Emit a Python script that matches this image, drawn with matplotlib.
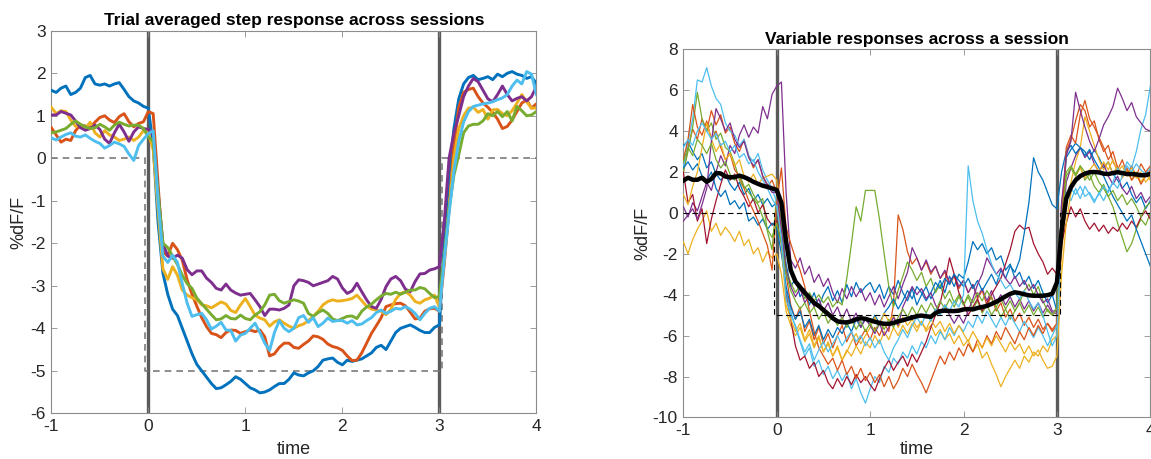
import numpy as np
import matplotlib
matplotlib.use("Agg")
import matplotlib.pyplot as plt

plt.rcParams['font.family'] = ['Liberation Sans', 'DejaVu Sans']
plt.rcParams['axes.unicode_minus'] = False

# sample times shared by every trace (-1 s to 4 s, 50 ms steps)
t = np.linspace(-1, 4, 101)

# stimulus step drawn as a dashed reference
step_t = [-1, -0.03, -0.03, 3.03, 3.03, 4]
step_v = [0, 0, -5, -5, 0, 0]

# ---- left panel: trial-averaged response for each session ----
sess_blue = [1.60, 1.55, 1.65, 1.70, 1.50, 1.55, 1.65, 1.90, 1.95, 1.75,
             1.72, 1.75, 1.70, 1.75, 1.78, 1.62, 1.45, 1.35, 1.30, 1.22,
             1.18, 0.30, -1.50, -2.70, -3.20, -3.55, -3.70, -4.00, -4.30, -4.60,
             -4.85, -5.00, -5.15, -5.30, -5.42, -5.40, -5.33, -5.25, -5.14, -5.20,
             -5.30, -5.40, -5.45, -5.52, -5.50, -5.45, -5.37, -5.30, -5.30, -5.20,
             -5.05, -5.10, -5.12, -5.05, -5.00, -4.90, -4.75, -4.72, -4.70, -4.80,
             -4.86, -4.75, -4.78, -4.75, -4.72, -4.65, -4.58, -4.45, -4.40, -4.50,
             -4.30, -4.10, -4.00, -3.96, -3.92, -3.98, -4.05, -4.10, -4.10, -3.98,
             -3.92, -2.00, -0.40, 0.70, 1.40, 1.75, 1.90, 1.95, 1.85, 1.88,
             1.92, 1.85, 1.98, 1.92, 2.00, 2.04, 1.98, 1.95, 1.88, 1.92, 1.76]
sess_orange = [0.72, 0.55, 0.38, 0.45, 0.42, 0.65, 0.78, 0.76, 0.72, 0.85,
               0.96, 1.00, 0.90, 0.84, 0.98, 1.05, 0.86, 0.74, 0.82, 0.86,
               1.10, 1.05, -0.60, -2.20, -2.30, -2.00, -2.15, -2.40, -2.86, -3.20,
               -3.48, -3.75, -3.96, -4.12, -4.15, -4.22, -4.10, -4.04, -4.05, -4.12,
               -4.08, -4.04, -4.08, -4.04, -4.20, -4.65, -4.60, -4.45, -4.35, -4.35,
               -4.45, -4.47, -4.38, -4.30, -4.18, -4.20, -4.26, -4.37, -4.43, -4.46,
               -4.52, -4.65, -4.76, -4.75, -4.58, -4.35, -4.12, -3.94, -3.75, -3.49,
               -3.45, -3.42, -3.41, -3.47, -3.62, -3.78, -3.76, -3.60, -3.54, -3.53,
               -3.60, -2.50, -1.20, 0.30, 1.20, 1.55, 1.62, 1.65, 1.45, 1.30,
               1.20, 1.08, 0.92, 0.70, 0.75, 0.90, 1.10, 1.30, 1.37, 1.18, 1.28]
sess_yellow = [1.20, 1.05, 1.12, 1.10, 0.90, 0.75, 0.80, 0.70, 0.85, 0.60,
               0.50, 0.65, 0.55, 0.50, 0.42, 0.45, 0.50, 0.42, 0.50, 0.65,
               0.60, 0.20, -1.20, -2.60, -2.85, -2.55, -2.75, -3.10, -3.22, -3.28,
               -3.33, -3.45, -3.47, -3.52, -3.45, -3.38, -3.43, -3.58, -3.63, -3.45,
               -3.30, -3.49, -3.69, -3.76, -3.80, -3.95, -3.85, -3.80, -3.88, -3.95,
               -4.00, -3.94, -3.90, -3.82, -3.72, -3.60, -3.45, -3.37, -3.33, -3.36,
               -3.35, -3.33, -3.30, -3.22, -3.35, -3.48, -3.55, -3.57, -3.60, -3.68,
               -3.55, -3.32, -3.18, -3.14, -3.22, -3.37, -3.41, -3.33, -3.29, -3.22,
               -3.50, -2.40, -1.20, 0.00, 0.70, 1.00, 1.18, 1.20, 1.08, 1.15,
               0.92, 1.14, 1.15, 1.05, 1.00, 1.12, 1.30, 1.50, 1.33, 1.18, 1.18]
sess_purple = [1.02, 1.02, 1.10, 1.06, 1.02, 0.88, 0.72, 0.66, 0.70, 0.78,
               0.68, 0.45, 0.35, 0.60, 0.80, 0.62, 0.40, 0.62, 0.74, 0.70,
               0.68, 0.55, -0.80, -2.00, -2.30, -2.35, -2.28, -2.35, -2.62, -2.74,
               -2.65, -2.65, -2.82, -2.92, -3.06, -3.10, -2.96, -3.10, -3.17, -3.22,
               -3.20, -3.18, -3.33, -3.49, -3.70, -3.55, -3.55, -3.57, -3.53, -3.45,
               -3.00, -2.86, -2.88, -2.92, -3.00, -2.96, -2.92, -2.88, -2.78, -2.84,
               -3.05, -3.18, -3.12, -2.94, -3.14, -3.33, -3.49, -3.53, -3.32, -3.02,
               -2.84, -2.78, -2.88, -3.08, -3.14, -2.90, -2.72, -2.71, -2.63, -2.60,
               -2.55, -1.50, 0.00, 0.60, 1.00, 1.45, 1.70, 1.88, 1.80, 1.60,
               1.40, 1.33, 1.50, 1.70, 1.50, 1.35, 1.41, 1.45, 1.35, 1.45, 1.69]
sess_green = [0.60, 0.62, 0.66, 0.70, 0.80, 0.88, 0.80, 0.74, 0.70, 0.72,
              0.80, 0.74, 0.66, 0.78, 0.85, 0.80, 0.76, 0.78, 0.78, 0.70,
              0.50, 0.40, -0.80, -2.00, -2.10, -2.30, -2.50, -2.75, -2.95, -3.06,
              -3.29, -3.42, -3.55, -3.68, -3.80, -3.78, -3.70, -3.77, -3.78, -3.69,
              -3.77, -3.80, -3.69, -3.61, -3.45, -3.22, -3.20, -3.35, -3.41, -3.37,
              -3.33, -3.36, -3.41, -3.65, -3.72, -3.63, -3.57, -3.65, -3.78, -3.82,
              -3.77, -3.72, -3.71, -3.77, -3.60, -3.50, -3.43, -3.33, -3.24, -3.18,
              -3.20, -3.15, -3.20, -3.15, -3.10, -3.10, -3.04, -3.07, -3.18, -3.28,
              -3.25, -2.30, -1.20, -0.40, 0.08, 0.60, 0.76, 0.80, 0.80, 0.88,
              1.05, 1.00, 1.10, 0.98, 1.10, 0.88, 1.22, 1.12, 1.00, 1.02, 1.10]
sess_lightblue = [0.48, 0.43, 0.50, 0.56, 0.60, 0.52, 0.50, 0.55, 0.47, 0.40,
                  0.35, 0.24, 0.30, 0.38, 0.34, 0.28, 0.10, -0.05, 0.30, 0.45,
                  0.58, 0.65, -1.00, -2.30, -2.45, -2.28, -2.45, -2.95, -3.41, -3.72,
                  -3.68, -3.65, -3.80, -4.02, -3.95, -3.86, -4.04, -4.05, -4.30, -4.16,
                  -4.12, -4.00, -3.88, -4.10, -4.35, -4.52, -4.10, -3.82, -4.00, -4.08,
                  -4.00, -3.75, -3.70, -3.86, -3.75, -3.96, -3.88, -3.76, -3.84, -3.82,
                  -3.82, -3.88, -3.82, -3.92, -3.90, -3.82, -3.75, -3.63, -3.57, -3.65,
                  -3.60, -3.53, -3.55, -3.49, -3.55, -3.65, -3.80, -3.65, -3.53, -3.49,
                  -3.60, -2.40, -1.30, -0.30, 0.40, 0.85, 1.10, 1.22, 1.25, 1.28,
                  1.30, 1.33, 1.38, 1.42, 1.50, 1.70, 1.84, 1.75, 2.04, 1.98, 1.50]

# ---- right panel: single trials within one session, plus their mean ----
trial_01 = [3.3, 3.5, 3.0, 2.6, 2.9, 2.2, 2.5, 1.9, 1.6, 1.9,
            1.4, 1.1, 1.5, 0.9, 1.2, 0.6, 0.9, 0.4, 0.7, 0.3,
            0.5, -0.5, -2.5, -3.6, -3.2, -4.1, -3.7, -4.5, -3.9, -4.6,
            -4.0, -3.6, -4.3, -3.8, -4.4, -3.5, -4.1, -3.4, -3.9, -3.6,
            -3.4, -3.9, -3.5, -4.2, -3.6, -4.0, -3.3, -3.9, -4.3, -3.7,
            -4.5, -4.0, -3.6, -4.2, -3.8, -3.3, -3.9, -3.1, -3.6, -3.0,
            -3.2, -2.4, -1.4, -1.8, -1.5, -2.0, -1.7, -2.3, -2.1, -2.8,
            -2.5, -3.2, -2.9, -3.5, -3.1, -3.7, -3.3, -3.9, -4.4, -4.0,
            -4.8, -0.5, 2.7, 3.1, 3.4, 3.2, 3.0, 2.6, 3.1, 2.7,
            2.2, 2.5, 1.9, 1.6, 1.2, 1.5, 0.9, 0.5, 0.8, 0.2, 0.6]
trial_02 = [2.0, 3.2, 4.1, 3.6, 4.6, 4.0, 5.0, 4.3, 4.8, 3.9,
            4.2, 3.4, 3.0, 3.6, 2.8, 2.2, 2.6, 1.8, 1.3, 1.6,
            1.0, -0.5, -3.0, -4.5, -5.2, -4.6, -5.8, -5.3, -6.2, -5.6,
            -6.4, -5.9, -6.6, -6.0, -5.5, -6.3, -5.8, -6.5, -6.1, -5.7,
            -6.2, -5.6, -6.0, -5.4, -5.8, -4.5, -0.1, -0.8, -1.9, -2.5,
            -2.2, -2.8, -2.4, -3.0, -2.6, -3.2, -2.9, -3.5, -3.1, -3.7,
            -3.3, -3.9, -3.5, -4.2, -3.8, -4.5, -4.1, -4.8, -4.4, -5.1,
            -4.7, -5.3, -4.9, -5.5, -5.1, -5.6, -5.2, -5.7, -5.4, -5.8,
            -5.5, -1.0, 3.0, 3.6, 4.5, 5.3, 5.0, 4.2, 4.5, 3.6,
            3.0, 3.3, 2.5, 2.1, 2.6, 1.9, 2.3, 1.8, 2.4, 2.0, 2.3]
trial_03 = [-1.4, -2.0, -1.3, -0.8, -0.4, 0.1, -0.9, -0.5, -1.1, -0.7,
            -1.0, -1.4, -0.9, -1.6, -1.3, -2.0, -1.7, -2.4, -1.9, -2.2,
            -2.0, -3.0, -4.8, -5.5, -6.0, -5.6, -6.3, -5.9, -6.6, -6.1,
            -6.8, -6.4, -7.0, -6.5, -7.2, -6.7, -7.0, -6.5, -6.9, -6.3,
            -6.6, -6.0, -6.4, -5.8, -6.2, -5.6, -6.0, -5.5, -5.9, -5.4,
            -5.8, -5.3, -5.8, -5.5, -6.0, -5.7, -6.2, -5.9, -6.4, -6.0,
            -6.5, -6.2, -6.8, -6.4, -7.1, -6.8, -7.4, -7.9, -8.5, -8.0,
            -7.6, -7.2, -7.6, -7.0, -7.3, -6.8, -7.0, -6.5, -6.8, -6.2,
            -6.0, -2.0, 0.5, 1.5, 2.5, 3.2, 4.7, 4.0, 3.3, 2.6,
            2.1, 2.5, 1.9, 2.3, 1.7, 2.1, 1.6, 2.0, 1.5, 1.9, 1.6]
trial_04 = [0.3, -0.2, 0.5, 0.1, 0.8, 1.5, 1.1, 2.0, 2.8, 2.3,
            3.3, 2.9, 3.8, 4.3, 3.7, 4.2, 3.9, 5.2, 4.6, 5.8,
            6.2, 6.4, 1.0, -2.3, -2.7, -2.2, -3.0, -2.6, -3.4, -3.0,
            -3.6, -3.2, -3.9, -4.4, -3.7, -4.2, -3.6, -4.1, -3.7, -4.3,
            -3.9, -4.5, -4.0, -4.6, -4.1, -3.6, -4.2, -3.5, -2.9, -1.7,
            -2.2, -2.8, -2.3, -2.9, -2.6, -3.2, -2.8, -3.4, -3.0, -3.6,
            -3.3, -3.9, -3.5, -4.1, -3.7, -4.3, -3.8, -4.4, -4.0, -4.5,
            -4.1, -4.6, -4.2, -4.7, -4.3, -4.8, -4.4, -4.9, -4.5, -4.9,
            -4.9, -1.5, 1.5, 2.2, 2.8, 3.2, 2.7, 3.0, 2.4, 2.0,
            2.4, 1.8, 1.4, 1.8, 1.2, 0.9, 1.3, 0.7, 1.0, 0.5, 0.8]
trial_05 = [2.0, 3.0, 4.2, 5.9, 4.6, 4.0, 4.4, 3.6, 3.9, 3.2,
            3.0, 2.4, 1.6, 1.2, 1.4, 0.9, 0.5, 0.7, -0.9, -1.8,
            0.9, -0.5, -2.8, -3.4, -3.9, -3.5, -4.2, -3.9, -4.3, -4.0,
            -4.4, -4.1, -4.6, -4.3, -4.5, -3.2, -1.5, 0.3, -0.4, 1.1,
            1.1, 1.1, -0.3, -2.0, -3.6, -4.6, -3.8, -3.1, -2.4, -2.8,
            -3.3, -2.9, -3.6, -3.2, -3.9, -3.5, -4.2, -3.8, -4.4, -4.0,
            -4.5, -4.1, -4.7, -4.3, -4.9, -4.5, -5.0, -4.6, -5.1, -4.7,
            -5.2, -4.8, -4.4, -3.8, -3.5, -4.0, -3.6, -4.3, -4.8, -5.0,
            -4.6, 0.5, 2.0, 2.3, 1.9, 2.3, 1.6, 1.9, 1.3, 1.0,
            1.4, 0.8, 0.3, -0.5, -1.2, -1.9, -1.5, -0.8, -0.3, -0.6, 0.0]
trial_06 = [2.2, 3.5, 4.6, 6.5, 6.4, 7.1, 6.2, 5.6, 5.3, 4.4,
            4.0, 3.8, 3.3, 3.6, 2.8, 2.5, 2.9, 2.1, 1.6, 1.2,
            0.5, -1.0, -3.8, -4.8, -5.6, -6.3, -7.0, -6.6, -7.5, -7.2,
            -7.9, -7.5, -8.1, -7.7, -8.2, -7.8, -8.6, -8.1, -8.8, -9.3,
            -8.6, -8.0, -8.3, -7.5, -7.8, -7.1, -7.4, -6.8, -7.1, -6.5,
            -6.9, -6.3, -6.6, -6.0, -6.4, -5.8, -6.2, -5.6, -6.0, -5.5,
            -5.8, -5.3, -5.6, -5.0, -5.4, -4.8, -5.2, -5.6, -5.1, -5.5,
            -5.0, -5.4, -5.8, -5.3, -5.7, -6.1, -5.6, -6.0, -6.5, -6.0,
            -5.5, -1.0, 1.0, 0.6, 1.2, 0.7, 1.3, 0.9, 0.5, 1.0,
            0.6, 1.1, 1.5, 1.2, 1.8, 2.5, 2.2, 3.0, 4.1, 4.8, 6.2]
trial_07 = [2.0, 0.5, 0.9, -0.4, 0.2, -1.5, -0.3, 0.6, 1.4, 2.1,
            1.6, 1.9, 1.2, 0.8, 0.3, 0.7, 0.0, 0.4, -0.3, -0.6,
            -0.4, -1.5, -4.0, -5.2, -6.5, -7.2, -7.0, -7.6, -7.3, -8.0,
            -7.7, -8.3, -8.6, -8.1, -8.5, -8.0, -8.4, -7.9, -8.3, -8.0,
            -8.4, -8.7, -8.1, -7.6, -7.2, -7.7, -7.3, -7.0, -7.5, -6.9,
            -7.3, -6.8, -6.3, -5.6, -5.0, -4.4, -3.4, -2.2, -3.0, -3.9,
            -4.4, -5.0, -4.6, -4.2, -4.8, -4.4, -4.0, -3.6, -3.2, -2.5,
            -1.8, -0.9, -0.6, -0.8, -0.7, -1.5, -2.0, -2.4, -3.0, -2.7,
            -3.0, -1.5, -0.5, 0.3, -0.2, 0.2, -0.4, -0.8, -0.5, -0.9,
            -0.6, -1.0, -0.7, -0.9, -0.5, -0.8, -0.4, -0.7, -0.2, 0.1, -0.3]
trial_08 = [2.2, 2.5, 2.1, 2.4, 1.8, 1.6, 2.0, 1.2, 0.8, 1.1,
            0.4, 0.6, 0.2, 0.5, -0.4, -0.2, -0.6, -0.3, -0.8, -0.5,
            -0.7, -2.0, -3.6, -4.6, -5.2, -4.8, -5.6, -5.2, -6.0, -5.5,
            -6.2, -5.7, -6.1, -5.6, -5.9, -5.4, -5.8, -5.2, -5.6, -5.1,
            -5.5, -5.0, -5.4, -4.9, -4.6, -4.2, -4.7, -4.3, -3.8, -4.2,
            -3.6, -3.9, -4.3, -3.9, -3.4, -3.7, -3.2, -3.5, -3.0, -3.3,
            -3.6, -3.2, -3.7, -3.3, -3.8, -3.4, -3.0, -3.5, -2.8, -3.2,
            -2.6, -2.9, -2.3, -1.0, 0.5, 2.7, 2.0, 1.6, 1.0, 0.4,
            0.2, 2.0, 3.0, 3.3, 2.9, 3.2, 2.8, 3.1, 2.6, 2.2,
            1.8, 1.3, 0.8, 0.4, 0.0, -0.4, -0.1, -0.8, -1.4, -2.0, -2.6]
trial_09 = [2.6, 3.6, 5.3, 4.2, 3.8, 4.5, 3.6, 4.0, 3.2, 2.6,
            2.9, 2.1, 1.8, 1.2, 0.6, 0.1, -0.4, -1.0, -1.6, -2.8,
            0.5, 2.2, -0.7, -1.5, -2.2, -2.8, -3.6, -4.8, -5.8, -6.6,
            -7.0, -7.4, -7.1, -7.7, -7.2, -7.9, -7.5, -8.1, -7.6, -8.2,
            -7.8, -8.3, -7.9, -8.5, -8.0, -8.6, -8.2, -7.6, -8.0, -7.4,
            -7.9, -8.3, -8.8, -8.2, -7.6, -7.0, -7.4, -6.8, -7.2, -6.6,
            -7.0, -6.4, -6.8, -6.2, -6.6, -6.0, -6.4, -5.8, -6.2, -5.6,
            -6.0, -6.4, -5.8, -6.2, -5.6, -6.0, -5.5, -5.9, -5.4, -5.7,
            -5.4, -0.5, 3.2, 3.8, 3.4, 4.8, 5.5, 4.6, 4.2, 3.7,
            3.2, 2.6, 3.0, 2.2, 1.8, 2.2, 1.6, 1.9, 1.4, 1.8, 2.1]
trial_10 = [0.9, 0.4, 1.3, 2.0, 3.2, 4.4, 3.6, 3.0, 3.4, 2.6,
            2.9, 2.3, 2.6, 1.8, 1.5, 1.9, 1.4, 1.7, 1.8, 1.9,
            1.6, -1.5, -4.5, -5.2, -5.8, -5.4, -6.2, -5.7, -6.5, -6.0,
            -6.8, -6.3, -7.0, -6.6, -7.2, -6.8, -6.3, -5.9, -6.4, -6.0,
            -5.6, -5.1, -5.5, -4.9, -5.3, -5.0, -5.6, -5.1, -5.5, -5.2,
            -5.6, -5.3, -5.7, -5.2, -5.6, -5.3, -5.8, -5.4, -5.9, -5.5,
            -5.9, -6.3, -5.8, -6.2, -6.6, -6.1, -6.5, -6.0, -6.4, -6.8,
            -6.3, -6.7, -6.4, -6.9, -6.5, -7.0, -6.7, -7.2, -7.6, -7.5,
            -7.0, -3.0, -0.5, 1.0, 1.8, 2.2, 1.7, 2.1, 2.4, 2.0,
            2.5, 2.1, 2.6, 2.0, 2.3, 1.8, 2.2, 1.7, 2.0, 1.5, 1.8]
trial_11 = [-0.4, -0.1, 0.2, -0.3, 0.4, 1.2, 3.5, 5.1, 4.6, 4.0,
            4.4, 3.6, 3.2, 3.5, 2.7, 2.3, 2.6, 1.8, 1.4, 1.0,
            1.0, -0.8, -2.8, -3.6, -4.1, -3.7, -4.4, -4.0, -4.6, -4.2,
            -4.8, -4.4, -5.0, -4.6, -5.2, -4.7, -5.3, -4.9, -5.6, -5.2,
            -5.5, -5.9, -5.4, -6.0, -5.6, -5.1, -5.5, -4.6, -4.1, -3.6,
            -4.0, -3.7, -4.2, -3.9, -4.5, -4.9, -4.5, -5.0, -5.4, -5.0,
            -5.4, -4.8, -4.2, -3.5, -3.0, -2.2, -2.6, -3.0, -2.7, -3.2,
            -3.5, -3.1, -3.6, -3.3, -3.8, -3.5, -4.0, -4.4, -4.2, -4.8,
            -4.8, 0.5, 2.8, 3.5, 5.9, 5.0, 4.2, 3.5, 3.0, 3.6,
            4.3, 4.7, 5.2, 6.1, 5.6, 5.0, 5.4, 4.7, 4.4, 4.1, 4.0]
trial_12 = [2.5, 3.2, 2.8, 3.6, 3.3, 2.9, 3.4, 2.6, 2.2, 2.5,
            1.9, 1.6, 1.9, 1.3, 1.0, 0.7, 0.4, -0.2, -0.8, -1.2,
            -0.5, -1.5, -3.0, -3.8, -4.3, -4.7, -4.4, -4.9, -4.6, -5.2,
            -4.8, -5.4, -5.0, -5.5, -5.1, -5.6, -5.2, -5.7, -5.3, -5.8,
            -5.4, -5.8, -5.3, -5.7, -5.2, -5.6, -5.1, -4.7, -5.1, -4.6,
            -5.0, -4.5, -4.9, -4.4, -4.8, -4.3, -4.7, -4.2, -4.6, -4.1,
            -4.5, -4.0, -4.4, -3.9, -4.3, -3.8, -4.2, -4.6, -4.2, -4.7,
            -4.3, -4.8, -4.4, -4.9, -4.5, -5.0, -4.6, -5.1, -4.7, -5.0,
            -4.7, -0.5, 1.8, 2.2, 1.8, 2.3, 2.0, 1.6, 2.0, 1.5,
            1.2, 0.8, 1.1, 0.6, 0.9, 0.4, 0.7, 0.3, -0.2, 0.3, 0.5]
trial_13 = [3.2, 3.6, 3.3, 4.0, 4.4, 4.0, 3.6, 3.9, 3.3, 3.5,
            3.0, 3.3, 2.7, 2.9, 2.4, 2.6, 2.0, 1.6, 1.2, 0.7,
            0.3, -1.2, -4.2, -5.0, -5.5, -6.2, -6.8, -6.4, -7.2, -6.7,
            -6.3, -6.8, -6.4, -6.0, -6.5, -6.1, -5.8, -6.3, -6.0, -6.5,
            -6.1, -6.6, -6.2, -6.8, -7.2, -6.6, -6.2, -5.7, -6.1, -5.5,
            -5.1, -5.5, -4.9, -5.3, -4.7, -5.0, -4.5, -4.8, -4.3, -4.6,
            -4.0, 2.3, 0.6, -0.4, -1.0, -1.8, -2.5, -3.0, -3.3, -3.7,
            -3.5, -3.9, -4.2, -3.8, -4.3, -4.7, -4.4, -5.0, -5.8, -6.5,
            -6.0, -0.8, 0.8, 1.2, 0.9, 1.3, 0.8, 1.0, 0.6, 0.9,
            1.3, 1.0, 1.5, 2.2, 1.8, 2.3, 2.0, 2.4, 2.1, 1.9, 2.2]
trial_mean = [1.58, 1.72, 1.62, 1.62, 1.72, 1.52, 1.66, 1.95, 1.93, 1.78,
              1.74, 1.75, 1.82, 1.75, 1.65, 1.52, 1.42, 1.33, 1.27, 1.20,
              1.12, 0.50, -1.40, -2.80, -3.35, -3.63, -3.90, -4.15, -4.40, -4.55,
              -4.75, -4.94, -5.15, -5.30, -5.35, -5.35, -5.30, -5.20, -5.15, -5.18,
              -5.25, -5.32, -5.38, -5.42, -5.43, -5.38, -5.30, -5.25, -5.18, -5.12,
              -5.05, -5.02, -5.06, -5.08, -4.90, -4.80, -4.78, -4.80, -4.80, -4.78,
              -4.72, -4.70, -4.72, -4.65, -4.60, -4.55, -4.45, -4.35, -4.22, -4.08,
              -3.96, -3.88, -3.92, -3.98, -4.03, -4.05, -4.05, -4.05, -4.02, -3.95,
              -3.40, -0.90, 0.70, 1.25, 1.60, 1.80, 1.92, 1.99, 2.00, 1.98,
              1.92, 1.90, 1.95, 1.99, 1.95, 1.90, 1.90, 1.88, 1.84, 1.85, 1.90]

BLUE, ORANGE, YELLOW, PURPLE = '#0072BD', '#D95319', '#EDB120', '#7E2F8E'
GREEN, LIGHTBLUE, DARKRED = '#77AC30', '#4DBEEE', '#A2142F'

sessions = [(sess_blue, BLUE), (sess_orange, ORANGE), (sess_yellow, YELLOW),
            (sess_purple, PURPLE), (sess_green, GREEN), (sess_lightblue, LIGHTBLUE)]
trials = [(trial_01, BLUE), (trial_02, ORANGE), (trial_03, YELLOW),
          (trial_04, PURPLE), (trial_05, GREEN), (trial_06, LIGHTBLUE),
          (trial_07, DARKRED), (trial_08, BLUE), (trial_09, ORANGE),
          (trial_10, YELLOW), (trial_11, PURPLE), (trial_12, GREEN),
          (trial_13, LIGHTBLUE)]

TXT = '#262626'
SPINE = '#8c8c8c'


def style_axes(ax, yticks, xpad, ypad):
    ax.set_xlim(-1, 4)
    ax.set_xticks([-1, 0, 1, 2, 3, 4])
    ax.set_yticks(yticks)
    ax.set_ylim(yticks[0], yticks[-1])
    ax.tick_params(direction='in', top=True, right=True, length=4,
                   width=0.6, color=SPINE, labelsize=12.5, labelcolor=TXT, pad=4)
    for sp in ax.spines.values():
        sp.set_color(SPINE)
        sp.set_linewidth(0.8)
    ax.set_xlabel('time', fontsize=13, color=TXT, labelpad=xpad)
    ax.set_ylabel('%dF/F', fontsize=13, color=TXT, labelpad=ypad)


fig = plt.figure(figsize=(11.51, 4.59), dpi=100)

# left panel
axL = fig.add_axes([0.0446, 0.0996, 0.4214, 0.8333])
for x in (0, 3):
    axL.axvline(x, color='#5a5a5a', lw=2.4, zorder=1)
axL.plot(step_t, step_v, color='#7a7a7a', lw=1.2, ls=(0, (4, 3)), zorder=2)
for vals, c in sessions:
    axL.plot(t, vals, color=c, lw=2.1, zorder=3, solid_joinstyle='round')
style_axes(axL, list(range(-6, 4)), 5, 2)
axL.set_title('Trial averaged step response across sessions',
              fontsize=12.5, fontweight='bold', color='black', pad=4)

# right panel
axR = fig.add_axes([0.5937, 0.0906, 0.4057, 0.802])
for x in (0, 3):
    axR.axvline(x, color='#5a5a5a', lw=2.4, zorder=1)
for vals, c in trials:
    axR.plot(t, vals, color=c, lw=0.9, zorder=3)
axR.plot(step_t, step_v, color='black', lw=0.8, ls=(0, (5, 3)), zorder=4)
axR.plot(t, trial_mean, color='black', lw=3.2, zorder=5, solid_joinstyle='round')
style_axes(axR, list(range(-10, 9, 2)), 2, 1)
axR.set_title('Variable responses across a session',
              fontsize=12.5, fontweight='bold', color='black', pad=4)

fig.savefig('out.png', dpi=100)
